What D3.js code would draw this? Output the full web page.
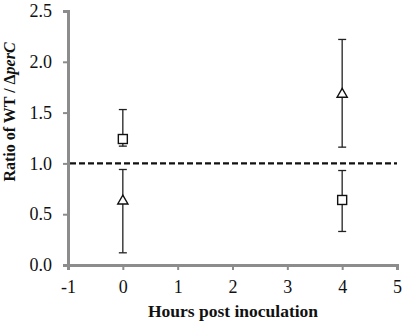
<!DOCTYPE html>
<html>
<head>
<meta charset="utf-8">
<script src="https://cdn.jsdelivr.net/npm/d3@7"></script>
<style>
  body { margin: 0; background: #fff; }
  svg { display: block; }
  svg text { font-family: "Liberation Serif", "Times New Roman", Times, serif; }
</style>
</head>
<body>
<div id="chart"></div>
<script>
// data
const hours = [0, 4];
const squareVals = [1.24, 0.64];
const squareLow = [1.17, 0.33];
const squareHigh = [1.53, 0.93];
const triVals = [0.63, 1.68];
const triLow = [0.12, 1.16];
const triHigh = [0.94, 2.22];
const xTicks = [-1, 0, 1, 2, 3, 4, 5];
const yTicks = [0, 0.5, 1, 1.5, 2, 2.5];
const refLine = 1.0;

const W = 403, H = 323;
const margin = { top: 11, right: 6, bottom: 58, left: 68 };

const svg = d3.select("#chart").append("svg")
  .attr("width", W).attr("height", H);

const x = d3.scaleLinear().domain([-1, 5]).range([margin.left, W - margin.right]);
const y = d3.scaleLinear().domain([0, 2.5]).range([H - margin.bottom, margin.top]);

// axes
const yAxis = svg.append("g")
  .attr("transform", `translate(${x(-1)},0)`)
  .call(d3.axisLeft(y).tickValues(yTicks).tickFormat(d => d.toFixed(1)).tickSize(5).tickPadding(11));
const xAxis = svg.append("g")
  .attr("transform", `translate(0,${y(0)})`)
  .call(d3.axisBottom(x).tickValues(xTicks).tickFormat(d => String(d)).tickSize(5).tickPadding(10));

[yAxis, xAxis].forEach(g => {
  g.attr("font-family", null).attr("font-size", 18);
  g.select(".domain").attr("stroke", "#8c8c8c").attr("stroke-width", 3);
  g.selectAll(".tick line").attr("stroke", "#8c8c8c").attr("stroke-width", 2);
  g.selectAll(".tick text").attr("fill", "#111");
});

// dashed reference line at 1.0
svg.append("line")
  .attr("x1", x(-1) + 2).attr("x2", x(5))
  .attr("y1", y(refLine)).attr("y2", y(refLine))
  .attr("stroke", "#111").attr("stroke-width", 2.2)
  .attr("stroke-dasharray", "6,3");

// error bars
function errBars(vals, lo, hi) {
  const g = svg.append("g").attr("stroke", "#222").attr("stroke-width", 1.3);
  hours.forEach((h, i) => {
    const cx = x(h);
    g.append("line").attr("x1", cx).attr("x2", cx).attr("y1", y(lo[i])).attr("y2", y(hi[i]));
    g.append("line").attr("x1", cx - 4).attr("x2", cx + 4).attr("y1", y(lo[i])).attr("y2", y(lo[i]));
    g.append("line").attr("x1", cx - 4).attr("x2", cx + 4).attr("y1", y(hi[i])).attr("y2", y(hi[i]));
  });
}
errBars(squareVals, squareLow, squareHigh);
errBars(triVals, triLow, triHigh);

// markers
svg.selectAll(".sq")
  .data(hours.map((h, i) => [h, squareVals[i]]))
  .join("rect")
  .attr("class", "sq")
  .attr("x", d => x(d[0]) - 4.5).attr("y", d => y(d[1]) - 4.5)
  .attr("width", 9).attr("height", 9)
  .attr("fill", "#fff").attr("stroke", "#111").attr("stroke-width", 1.4);

svg.selectAll(".tri")
  .data(hours.map((h, i) => [h, triVals[i]]))
  .join("path")
  .attr("class", "tri")
  .attr("transform", d => `translate(${x(d[0])},${y(d[1])})`)
  .attr("d", d3.symbol().type(d3.symbolTriangle).size(45))
  .attr("fill", "#fff").attr("stroke", "#111").attr("stroke-width", 1.4);

// axis titles
svg.append("text")
  .attr("x", 233)
  .attr("y", 317)
  .attr("text-anchor", "middle")
  .attr("font-size", 17.5)
  .attr("font-weight", "bold")
  .attr("fill", "#111")
  .text("Hours post inoculation");

const yt = svg.append("text")
  .attr("transform", "translate(15,112) rotate(-90)")
  .attr("text-anchor", "middle")
  .attr("font-size", 16)
  .attr("font-weight", "bold")
  .attr("fill", "#111");
yt.append("tspan").text("Ratio of WT / Δ");
yt.append("tspan").attr("font-style", "italic").text("perC");
</script>
</body>
</html>
